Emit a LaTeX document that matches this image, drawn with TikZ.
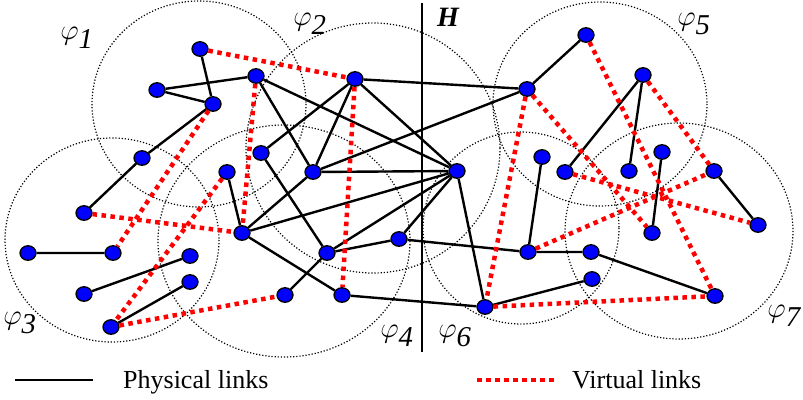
\documentclass[tikz,border=0pt]{standalone}
\usepackage{fontspec}
\setmainfont{Liberation Serif}
\usepackage{tikz}
\usetikzlibrary{shapes.geometric}
\definecolor{nodeblue}{RGB}{0,0,255}
\definecolor{linkred}{RGB}{255,0,0}

\begin{document}
\begin{tikzpicture}[
  x=1pt,y=-1pt,
  dev/.style={ellipse,draw=black,line width=1.3pt,fill=nodeblue,
    inner sep=0pt,minimum width=16pt,minimum height=14.5pt},
  phys/.style={draw=black,line width=2.4pt},
  virt/.style={draw=linkred,line width=4.5pt,dash pattern=on 4.5pt off 4.5pt},
  zone/.style={draw=black,line width=1.2pt,dash pattern=on 1.2pt off 1.9pt},
  lbl/.style={inner sep=0pt,scale=1.15,font=\fontsize{25}{30}\selectfont},
  legend/.style={inner sep=0pt,font=\fontsize{26}{31}\selectfont}
]
\useasboundingbox (0,0) rectangle (803,399);
\draw[zone] (199,104) ellipse [x radius=107,y radius=103];
\draw[zone] (373,148) ellipse [x radius=127,y radius=125];
\draw[zone] (112,240) ellipse [x radius=107,y radius=102];
\draw[zone] (284,241) ellipse [x radius=126,y radius=116];
\draw[zone] (600,104) ellipse [x radius=107,y radius=102];
\draw[zone] (521,228) ellipse [x radius=98,y radius=96];
\draw[zone] (679,231) ellipse [x radius=114,y radius=108];
\node[lbl] (p1) at (77,38) {$\varphi_{\textit{1}}$};
\node[lbl] (p2) at (310,24) {$\varphi_{\textit{2}}$};
\node[lbl] (p3) at (20,323) {$\varphi_{\textit{3}}$};
\node[lbl] (p4) at (397,336) {$\varphi_{\textit{4}}$};
\node[lbl] (p5) at (694,24) {$\varphi_{\textit{5}}$};
\node[lbl] (p6) at (455,336) {$\varphi_{\textit{6}}$};
\node[lbl,anchor=east] (p7) at (801,316) {$\varphi_{\textit{7}}$};
\coordinate (htop) at (422,3);
\coordinate (hbot) at (422,352);
\draw[line width=1.8pt] (htop) -- (hbot);
\node[inner sep=0pt,font=\fontsize{28}{33}\selectfont\bfseries\itshape] (hl) at (448,17) {H};
\node[dev] (a1) at (200,49) {}; \node[dev] (a2) at (256,76) {};
\node[dev] (a3) at (157,90) {}; \node[dev] (a4) at (213,104) {};
\node[dev] (a5) at (142,158) {}; \node[dev] (a6) at (227,172) {};
\node[dev] (b1) at (355,79) {}; \node[dev] (b2) at (261,153) {};
\node[dev] (b3) at (313,172) {}; \node[dev] (h) at (457,171) {};
\node[dev] (c1) at (84,213) {}; \node[dev] (c2) at (28,253) {};
\node[dev] (c3) at (113,253) {}; \node[dev] (c4) at (84,294) {};
\node[dev] (c5) at (111,327) {}; \node[dev] (c6) at (190,256) {};
\node[dev] (c7) at (190,282) {};
\node[dev] (d1) at (242,233) {}; \node[dev] (d2) at (327,253) {};
\node[dev] (d3) at (399,239) {}; \node[dev] (d4) at (285,295) {};
\node[dev] (d5) at (342,295) {};
\node[dev] (e1) at (527,89) {}; \node[dev] (e2) at (586,35) {};
\node[dev] (e3) at (643,75) {}; \node[dev] (e4) at (565,172) {};
\node[dev] (e5) at (629,171) {};
\node[dev] (f1) at (542,157) {}; \node[dev] (f2) at (528,252) {};
\node[dev] (f3) at (591,252) {}; \node[dev] (f4) at (592,279) {};
\node[dev] (f5) at (485,307) {};
\node[dev] (g1) at (662,152) {}; \node[dev] (g2) at (714,171) {};
\node[dev] (g3) at (758,225) {}; \node[dev] (g4) at (652,233) {};
\node[dev] (g5) at (715,296) {};
\draw[phys] (a1) -- (a4) (a3) -- (a2) (a3) -- (a4) (a4) -- (a5) (a5) -- (c1);
\draw[phys] (a2) -- (b3) (a2) -- (h) (b1) -- (b3) (b1) -- (b2) (b1) -- (h) (b1) -- (e1);
\draw[phys] (b3) -- (h) (b3) -- (e1) (b2) -- (d2) (a6) -- (d1) (b3) -- (d1) (d1) -- (h);
\draw[phys] (d1) -- (d5) (d4) -- (d2) (d2) -- (h) (d2) -- (d3) (d3) -- (h) (d3) -- (f2);
\draw[phys] (d5) -- (f5) (h) -- (f5) (c2) -- (c3) (c4) -- (c6) (c5) -- (c7);
\draw[phys] (e1) -- (e2) (e4) -- (e3) (e3) -- (e5) (f1) -- (f2) (f2) -- (f3) (f3) -- (g5);
\draw[phys] (f5) -- (f4) (g1) -- (g4) (g2) -- (g3);
\draw[virt] (a1) -- (b1) (a2) -- (d1) (a4) -- (c3) (a6) -- (c5) (c1) -- (d1) (c5) -- (d4);
\draw[virt] (b1) -- (d5) (e1) -- (f5) (e1) -- (g4) (e2) -- (g5) (e3) -- (g2) (e4) -- (g3);
\draw[virt] (f2) -- (g2) (f5) -- (g5);
\coordinate (lp1) at (15,380); \coordinate (lp2) at (93,380);
\coordinate (lv1) at (477,380); \coordinate (lv2) at (557,380);
\draw[phys] (lp1) -- (lp2);
\draw[virt] (lv1) -- (lv2);
\node[legend,anchor=base west] (lptxt) at (123,388) {Physical links};
\node[legend,anchor=base west] (lvtxt) at (572,388) {Virtual links};
\end{tikzpicture}
\end{document}
